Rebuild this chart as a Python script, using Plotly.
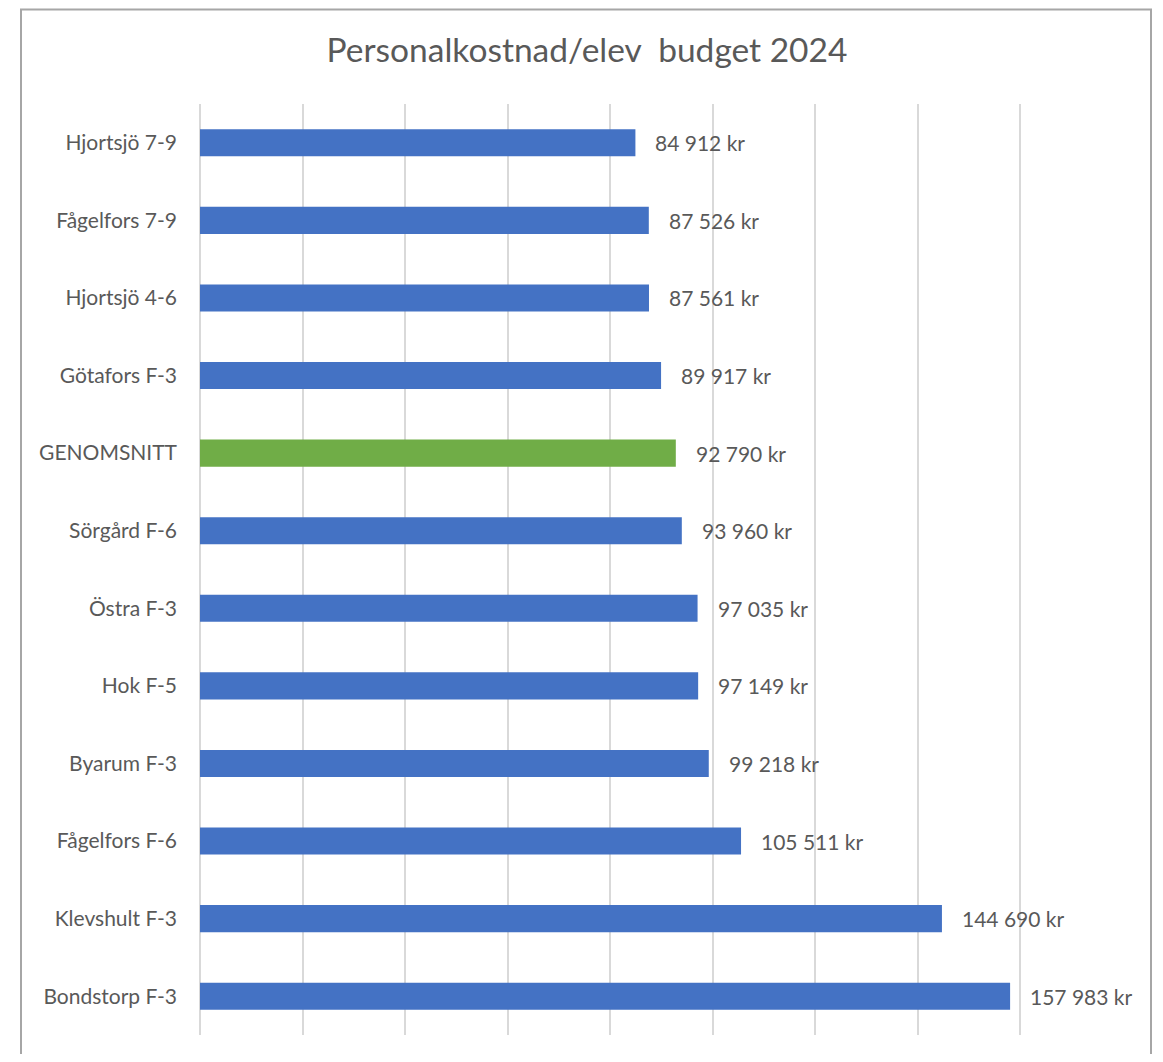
import plotly.graph_objects as go

categories = ["Hjortsjö 7-9", "Fågelfors 7-9", "Hjortsjö 4-6", "Götafors F-3", "GENOMSNITT",
              "Sörgård F-6", "Östra F-3", "Hok F-5", "Byarum F-3", "Fågelfors F-6",
              "Klevshult F-3", "Bondstorp F-3"]
values = [84912, 87526, 87561, 89917, 92790, 93960, 97035, 97149, 99218, 105511, 144690, 157983]
value_labels = ["84 912 kr", "87 526 kr", "87 561 kr", "89 917 kr", "92 790 kr", "93 960 kr",
                "97 035 kr", "97 149 kr", "99 218 kr", "105 511 kr", "144 690 kr", "157 983 kr"]
highlight = "GENOMSNITT"

BLUE = "#4472C4"
GREEN = "#70AD47"
TXT = "#595959"
FONT = "Lato, 'Open Sans', sans-serif"

colors = [GREEN if c == highlight else BLUE for c in categories]

# page body has an 8px default margin, so the figure is drawn 8px smaller/offset
OFF = 8
W, H = 1163 - 2 * OFF, 1062 - 2 * OFF
L, T = 200 - OFF, 104 - OFF
PW, PH = 923, 931

fig = go.Figure()
fig.add_trace(go.Bar(
    y=categories, x=values, orientation="h",
    marker=dict(color=colors, line=dict(width=0)),
    width=0.35, hoverinfo="x+y",
))

for c, v, t in zip(categories, values, value_labels):
    fig.add_annotation(x=v, y=c, text=t, showarrow=False, xanchor="left",
                       xshift=18, font=dict(family=FONT, size=21, color=TXT))

fig.update_layout(
    width=W, height=H,
    margin=dict(l=L, r=W - L - PW, t=T, b=H - T - PH),
    paper_bgcolor="white", plot_bgcolor="white",
    showlegend=False,
    title=dict(text="Personalkostnad/elev  budget 2024", x=(587 - OFF) / W, xanchor="center",
               y=1 - (50 - OFF) / H, yanchor="middle",
               font=dict(family=FONT, size=33.5, color=TXT)),
    xaxis=dict(range=[0, 180000], dtick=20000, showgrid=True, gridcolor="#D9D9D9",
               gridwidth=1.5, showticklabels=False, zeroline=True, zerolinecolor="#D9D9D9",
               zerolinewidth=1.5, showline=False, fixedrange=True),
    yaxis=dict(autorange="reversed", showgrid=False, ticks="", ticklabelstandoff=22,
               tickfont=dict(family=FONT, size=21, color=TXT), showline=False),
    shapes=[dict(type="rect", xref="paper", yref="paper",
                 x0=(21 - 200) / PW, x1=(1151 - 200) / PW,
                 y0=(1035 - 1085) / PH, y1=(1035 - 9.5) / PH,
                 line=dict(color="#A6A6A6", width=2), fillcolor="rgba(0,0,0,0)",
                 layer="below")],
)

fig.write_html("out.html")
